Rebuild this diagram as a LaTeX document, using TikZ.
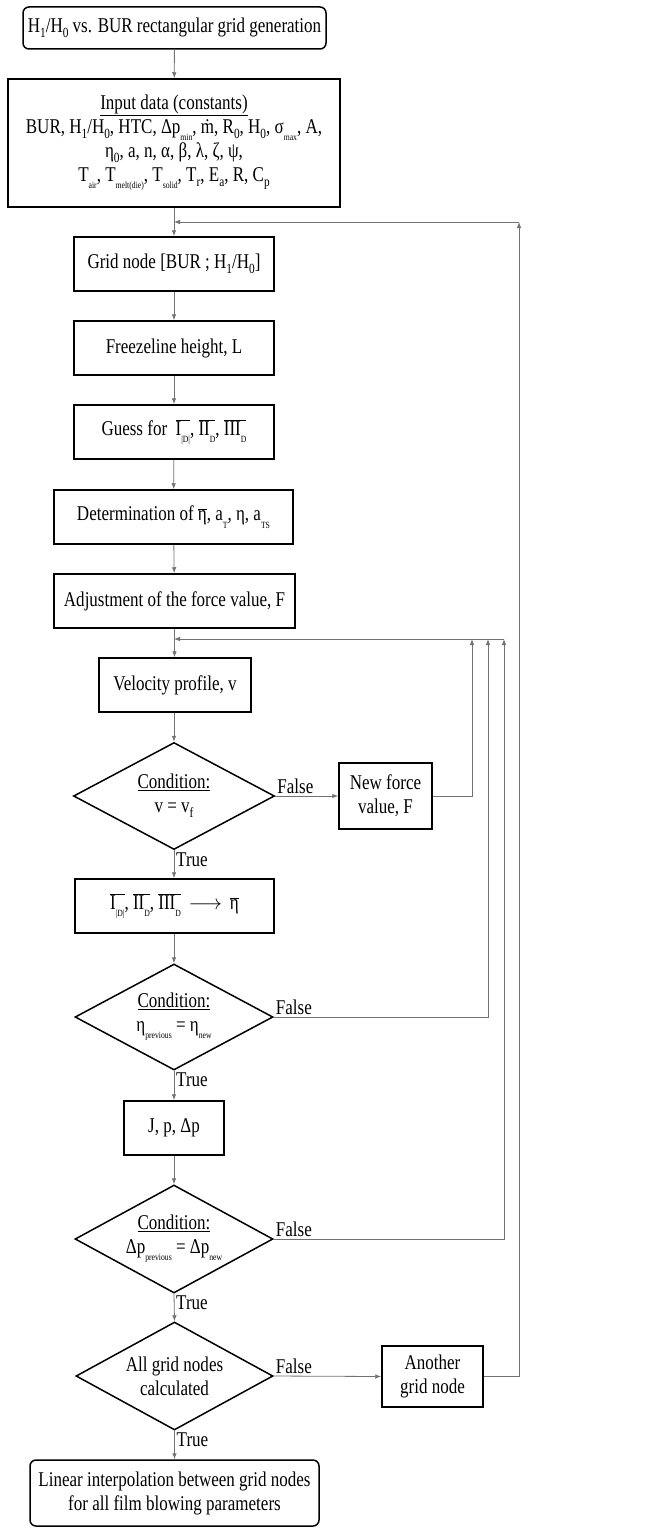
\documentclass[tikz,border=0pt]{standalone}
\usepackage{fontspec}
\setmainfont[FakeStretch=0.81]{Liberation Serif}
\usepackage{tikz}
\usetikzlibrary{shapes.geometric,arrows.meta}

\newcommand{\lowsub}[1]{\raisebox{-0.25em}{\fontsize{14}{14}\selectfont #1}}
\newcommand{\tinysub}[1]{\raisebox{-0.35em}{\fontsize{9.5}{9.5}\selectfont #1}}
\newcommand{\barred}[1]{$\overline{\hbox{#1}}$}

\tikzset{
  box/.style={draw,line width=1.5pt,align=center,inner sep=2pt},
  rbox/.style={box,rounded corners=6pt},
  decision/.style={draw,diamond,line width=1.5pt,inner sep=0pt},
  dtext/.style={align=center,inner sep=0pt},
  flow/.style={draw=black!55,line width=0.8pt},
  lbl/.style={inner sep=2pt}
}

\begin{document}
\begin{tikzpicture}[x=1pt,y=-1pt,>={Latex[length=6pt,width=4.5pt]},
  font=\fontsize{21}{24}\selectfont]
\useasboundingbox (0,0) rectangle (662,1528);

% main column
\node[rbox,minimum width=303,minimum height=42] (title) at (174.5,28)
  {H\lowsub{1}/H\lowsub{0} vs. BUR rectangular grid generation};
\node[box,minimum width=332,minimum height=128] (input) at (174,143)
  {\underline{Input data (constants)}\\
   BUR, H\lowsub{1}/H\lowsub{0}, HTC, Δp\tinysub{min}, \.m, R\lowsub{0}, H\lowsub{0}, σ\tinysub{max}, A,\\
   η\lowsub{0}, a, n, α, β, λ, ζ, ψ,\\
   T\tinysub{air}, T\tinysub{melt(die)}, T\tinysub{solid}, T\lowsub{r}, E\lowsub{a}, R, C\lowsub{p}};
\node[box,minimum width=200,minimum height=54] (grid) at (174,264)
  {Grid node [BUR ; H\lowsub{1}/H\lowsub{0}]};
\node[box,minimum width=200,minimum height=54] (freeze) at (174,348)
  {Freezeline height, L};
\node[box,minimum width=200,minimum height=54] (guess) at (174,432)
  {Guess for \ \barred{I\tinysub{|D|}}, \barred{II\tinysub{D}}, \barred{III\tinysub{D}}};
\node[box,minimum width=239,minimum height=54] (determ) at (173.5,517)
  {Determination of \barred{η}, a\tinysub{T}, η, a\tinysub{TS}};
\node[box,minimum width=241,minimum height=54] (adjust) at (174.5,601)
  {Adjustment of the force value, F};
\node[box,minimum width=152,minimum height=54] (velo) at (175,685)
  {Velocity profile, v};
\node[decision,minimum width=201,minimum height=107] (cond1) at (174,796) {};
\node[dtext] (cond1txt) at (cond1) {\underline{Condition:}\\ v = v\lowsub{f}};
\node[box,minimum width=93,minimum height=66] (newF) at (385.5,796)
  {New force\\ value, F};
\node[box,minimum width=199,minimum height=54] (visc) at (174.5,906)
  {\barred{I\tinysub{|D|}}, \barred{II\tinysub{D}}, \barred{III\tinysub{D}} \,$\longrightarrow$\, \barred{η}};
\node[decision,minimum width=198,minimum height=106] (cond2) at (174,1017) {};
\node[dtext] (cond2txt) at (cond2) {\underline{Condition:}\\ η\tinysub{previous} = η\tinysub{new}};
\node[box,minimum width=100,minimum height=54] (jpdp) at (174,1128)
  {J, p, Δp};
\node[decision,minimum width=198,minimum height=108] (cond3) at (174,1239) {};
\node[dtext] (cond3txt) at (cond3) {\underline{Condition:}\\ Δp\tinysub{previous} = Δp\tinysub{new}};
\node[decision,minimum width=197,minimum height=108] (allgrid) at (174.5,1376) {};
\node[dtext] (allgridtxt) at (allgrid) {All grid nodes\\ calculated};
\node[box,minimum width=101,minimum height=61] (another) at (432.5,1376.5)
  {Another\\ grid node};
\node[rbox,minimum width=289,minimum height=66] (final) at (174.5,1493)
  {Linear interpolation between grid nodes\\ for all film blowing parameters};

% branch labels
\node[lbl,above right] (f1) at (cond1.east) {False};
\node[lbl,above right] (f2) at (cond2.east) {False};
\node[lbl,above right] (f3) at (cond3.east) {False};
\node[lbl,above right] (f4) at (allgrid.east) {False};
\node[lbl,below right] (t1) at (cond1.south) {True};
\node[lbl,below right] (t2) at (cond2.south) {True};
\node[lbl,below right] (t3) at (cond3.south) {True};
\node[lbl,below right] (t4) at (allgrid.south) {True};

% loop points
\coordinate (topR) at (519,222);
\coordinate (topJ) at (174,222);
\coordinate (colA) at (472,639);
\coordinate (colB) at (488,639);
\coordinate (colC) at (504,639);
\coordinate (loopJ) at (174,639);

% straight flow
\draw[flow,->] (title) -- (input);
\draw[flow,->] (input) -- (grid);
\draw[flow,->] (grid) -- (freeze);
\draw[flow,->] (freeze) -- (guess);
\draw[flow,->] (guess) -- (determ);
\draw[flow,->] (determ) -- (adjust);
\draw[flow,->] (adjust.south) -- (adjust.south |- velo.north);
\draw[flow,->] (velo.south -| cond1.north) -- (cond1.north);
\draw[flow,->] (cond1.south) -- (cond1.south |- visc.north);
\draw[flow,->] (cond1.east) -- (newF.west);
\draw[flow,->] (visc.south -| cond2.north) -- (cond2.north);
\draw[flow,->] (cond2.south) -- (jpdp.north);
\draw[flow,->] (jpdp.south) -- (cond3.north);
\draw[flow,->] (cond3.south) -- (allgrid.north);
\draw[flow,->] (allgrid.south) -- (final.north -| allgrid.south);
\draw[flow,->] (allgrid.east) -- (another.west);

% feedback loops
\draw[flow,->] (newF.east) -- (newF.east -| colA) -- (colA);
\draw[flow,->] (cond2.east) -- (cond2.east -| colB) -- (colB);
\draw[flow,->] (cond3.east) -- (cond3.east -| colC) -- (colC);
\draw[flow,->] (colC) -- (loopJ);
\draw[flow,->] (another.east) -- (another.east -| topR) -- (topR);
\draw[flow,->] (topR) -- (topJ);
\end{tikzpicture}
\end{document}
